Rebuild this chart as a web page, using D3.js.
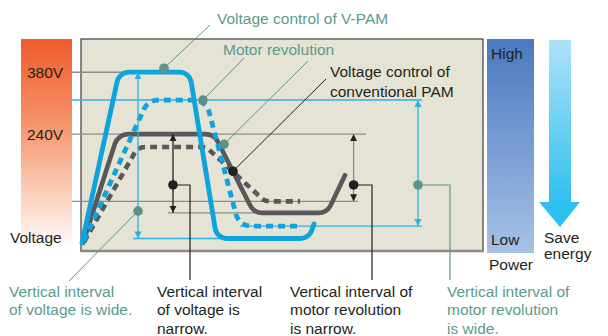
<!DOCTYPE html>
<html>
<head>
<meta charset="utf-8">
<script src="https://cdn.jsdelivr.net/npm/d3@7"></script>
<style>
  html, body { margin: 0; padding: 0; background: #ffffff; }
  svg { display: block; }
  text { font-family: "Liberation Sans", Arial, sans-serif; font-size: 15.5px; }
</style>
</head>
<body>
<script>
// ---- data: time on x (0..100), voltage / revolution level on y (V) ----
const voltTicks = [380, 240];
const voltTickLabels = ["380V", "240V"];

// corner vertices of each curve [t, level]
const vpamVoltage  = [[0, -6], [9.3, 380], [26.9, 380], [33.7, 4], [56.75, 4], [58, 37]];
const convVoltage  = [[0.25, -6], [9, 240], [33, 240], [43, 62], [61.25, 62], [65.75, 147]];
const vpamMotor    = [[0.5, -1], [16.5, 317], [31, 317], [39.25, 32], [53.75, 32]];
const convMotor    = [[0.5, -4], [14, 211], [31, 211], [45.75, 88], [54.5, 88]];

// horizontal guides [level, t start, t end]
const guideLevels = [380, 317, 240, 88, 62, 4, 32];
const guideStart  = [-2.5, -2.5, -2.5, -2.5, 21.5, 12.75, 39.5];
const guideEnd    = [10, 85, 71, 69, 55, 34.5, 85];

// vertical intervals [t, top level, bottom level]
const intervalT    = [14, 22.75, 67.9, 84];
const intervalTop  = [380, 240, 240, 317];
const intervalBot  = [4, 62, 88, 32];

const topLabel1 = "Voltage control of V-PAM";
const topLabel2 = "Motor revolution";
const topLabel3 = ["Voltage control of", "conventional PAM"];
const bottomLabels = [
  ["Vertical interval", "of voltage is wide."],
  ["Vertical interval", "of voltage is", "narrow."],
  ["Vertical interval of", "motor revolution", "is narrow."],
  ["Vertical interval of", "motor revolution", "is wide."]
];

// ---- layout ----
const W = 608, H = 336;
const box = { x0: 81, x1: 483, y0: 39, y1: 251 };
const x = d3.scaleLinear().domain([0, 100]).range([82, 482]);
const y = d3.scaleLinear().domain([-22, 455]).range([250, 39]);

const BLUE = "#0fa3de", BLUE_THIN = "#2fb0e4", DARK = "#58585a",
      GUIDE = "#8c8c8c", TEAL = "#5a9b8c", TEAL_DOT = "#5b9487", INK = "#231f20";

const svg = d3.select("body").append("svg").attr("width", W).attr("height", H);
const defs = svg.append("defs");

// gradients
const gL = defs.append("linearGradient").attr("id", "gVolt").attr("x1", 0).attr("y1", 0).attr("x2", 0).attr("y2", 1);
[[0, "#f15a2b"], [0.4, "#f5946b"], [0.75, "#fbd2bf"], [1, "#ffffff"]]
  .forEach(s => gL.append("stop").attr("offset", s[0]).attr("stop-color", s[1]));
const gP = defs.append("linearGradient").attr("id", "gPow").attr("x1", 0).attr("y1", 0).attr("x2", 0).attr("y2", 1);
[[0, "#4a79bf"], [1, "#a6c1e6"]].forEach(s => gP.append("stop").attr("offset", s[0]).attr("stop-color", s[1]));
const gA = defs.append("linearGradient").attr("id", "gArr").attr("gradientUnits", "userSpaceOnUse")
  .attr("x1", 0).attr("y1", 40).attr("x2", 0).attr("y2", 205);
[[0, "#ade2f8"], [1, "#2ec0ee"]].forEach(s => gA.append("stop").attr("offset", s[0]).attr("stop-color", s[1]));

function marker(id, color) {
  defs.append("marker").attr("id", id).attr("viewBox", "0 0 10 10")
    .attr("refX", 10).attr("refY", 5).attr("markerUnits", "userSpaceOnUse")
    .attr("markerWidth", 7).attr("markerHeight", 10).attr("orient", "auto-start-reverse")
    .append("path").attr("d", "M0,0 L10,5 L0,10 Z").attr("fill", color);
}
marker("mBlue", BLUE_THIN);
marker("mInk", INK);

// voltage bar (left)
svg.append("rect").attr("x", 21).attr("y", 39).attr("width", 51).attr("height", 211).attr("fill", "url(#gVolt)");
voltTicks.forEach((v, i) => {
  svg.append("text").attr("x", 27).attr("y", y(v) + 6).attr("fill", INK).text(voltTickLabels[i]);
});
svg.append("text").attr("x", 10).attr("y", 243).attr("fill", INK).text("Voltage");

// plot box
svg.append("rect").attr("x", box.x0).attr("y", box.y0).attr("width", box.x1 - box.x0).attr("height", box.y1 - box.y0)
  .attr("fill", "#e5e3d3").attr("stroke", "#4a4a4a").attr("stroke-width", 1.3);
svg.append("line").attr("x1", box.x0 - 0.5).attr("x2", box.x1 + 0.5).attr("y1", box.y1).attr("y2", box.y1)
  .attr("stroke", "#8a8a8a").attr("stroke-width", 2.6);

// power bar (right)
svg.append("rect").attr("x", 487).attr("y", 39).attr("width", 47).attr("height", 214).attr("fill", "url(#gPow)");
svg.append("text").attr("x", 491).attr("y", 59).attr("fill", INK).text("High");
svg.append("text").attr("x", 491).attr("y", 245).attr("fill", INK).text("Low");
svg.append("text").attr("x", 489).attr("y", 270).attr("fill", INK).text("Power");

// save-energy arrow
svg.append("path")
  .attr("d", "M549,40 L571,40 L571,202 L580,202 L560,227 L539,202 L549,202 Z")
  .attr("fill", "url(#gArr)");
svg.append("text").attr("x", 544).attr("y", 243).attr("fill", INK).text("Save");
svg.append("text").attr("x", 544).attr("y", 259).attr("fill", INK).text("energy");

// horizontal guides
const guideColor = [GUIDE, BLUE_THIN, GUIDE, GUIDE, GUIDE, BLUE_THIN, BLUE_THIN];
guideLevels.forEach((v, i) => {
  svg.append("line")
    .attr("x1", x(guideStart[i])).attr("x2", x(guideEnd[i]))
    .attr("y1", y(v)).attr("y2", y(v))
    .attr("stroke", guideColor[i]).attr("stroke-width", 1.4);
});

// curves with rounded corners
function rounded(pts, r) {
  const p = d3.path();
  const P = pts.map(d => [x(d[0]), y(d[1])]);
  p.moveTo(P[0][0], P[0][1]);
  for (let i = 1; i < P.length - 1; i++) p.arcTo(P[i][0], P[i][1], P[i + 1][0], P[i + 1][1], r);
  p.lineTo(P[P.length - 1][0], P[P.length - 1][1]);
  return p.toString();
}
const curves = [
  { pts: convMotor,   r: 12, color: DARK, dash: "7,5", w: 4.6 },
  { pts: convVoltage, r: 14, color: DARK, dash: null,  w: 4.6 },
  { pts: vpamMotor,   r: 16, color: BLUE, dash: "7,5", w: 4.8 },
  { pts: vpamVoltage, r: 12, color: BLUE, dash: null,  w: 4.8 }
];
curves.forEach(c => {
  svg.append("path").attr("d", rounded(c.pts, c.r)).attr("fill", "none")
    .attr("stroke", c.color).attr("stroke-width", c.w)
    .attr("stroke-linejoin", "round").attr("stroke-linecap", c.dash ? "butt" : "round")
    .attr("stroke-dasharray", c.dash);
});

// vertical interval arrows
const intervalColor = [BLUE_THIN, INK, GUIDE, BLUE_THIN];
const intervalMarker = ["mBlue", "mInk", "mInk", "mBlue"];
intervalT.forEach((t, i) => {
  svg.append("line")
    .attr("x1", x(t)).attr("x2", x(t))
    .attr("y1", y(intervalTop[i])).attr("y2", y(intervalBot[i]))
    .attr("stroke", intervalColor[i]).attr("stroke-width", 1.3)
    .attr("marker-start", `url(#${intervalMarker[i]})`)
    .attr("marker-end", `url(#${intervalMarker[i]})`);
});

// leaders and callout dots
function leader(pts, color, w) {
  svg.append("path").attr("d", d3.line()(pts)).attr("fill", "none")
    .attr("stroke", color).attr("stroke-width", w);
}
function dot(t, v, color) {
  svg.append("circle").attr("cx", x(t)).attr("cy", y(v)).attr("r", 4.8).attr("fill", color);
}

// top callouts
leader([[210, 25], [x(20.5), y(389)]], TEAL_DOT, 1);
leader([[244, 58], [x(30.25), y(317)]], TEAL_DOT, 1);
leader([[308, 61], [x(35.5), y(217)]], TEAL_DOT, 1);
leader([[326, 79], [x(37.75), y(156)]], INK, 1);
dot(20.5, 389, TEAL_DOT);
dot(30.25, 317, TEAL_DOT);
dot(35.5, 217, TEAL_DOT);
dot(37.75, 156, INK);

svg.append("text").attr("x", 217).attr("y", 24).attr("fill", TEAL).text(topLabel1);
svg.append("text").attr("x", 223).attr("y", 55).attr("fill", TEAL).text(topLabel2);
topLabel3.forEach((s, i) => svg.append("text").attr("x", 330).attr("y", 77 + i * 20).attr("fill", INK).text(s));

// bottom callouts
const midLevel = 125;
leader([[x(14), y(66)], [69, 281]], TEAL_DOT, 1);
leader([[x(22.75), y(midLevel)], [190, y(midLevel)], [190, 280]], INK, 1.2);
leader([[x(67.9), y(midLevel)], [372, y(midLevel)], [372, 280]], INK, 1.2);
leader([[x(84), y(midLevel)], [450, y(midLevel)], [450, 280]], TEAL_DOT, 1.2);
dot(14, 66, TEAL_DOT);
dot(22.75, midLevel, INK);
dot(67.9, midLevel, INK);
dot(84, midLevel, TEAL_DOT);

const bx = [9, 157, 290, 447];
const bColor = [TEAL, INK, INK, TEAL];
bottomLabels.forEach((lines, i) => {
  lines.forEach((s, j) => {
    svg.append("text").attr("x", bx[i]).attr("y", 296.5 + j * 18.5).attr("fill", bColor[i]).text(s);
  });
});
</script>
</body>
</html>
